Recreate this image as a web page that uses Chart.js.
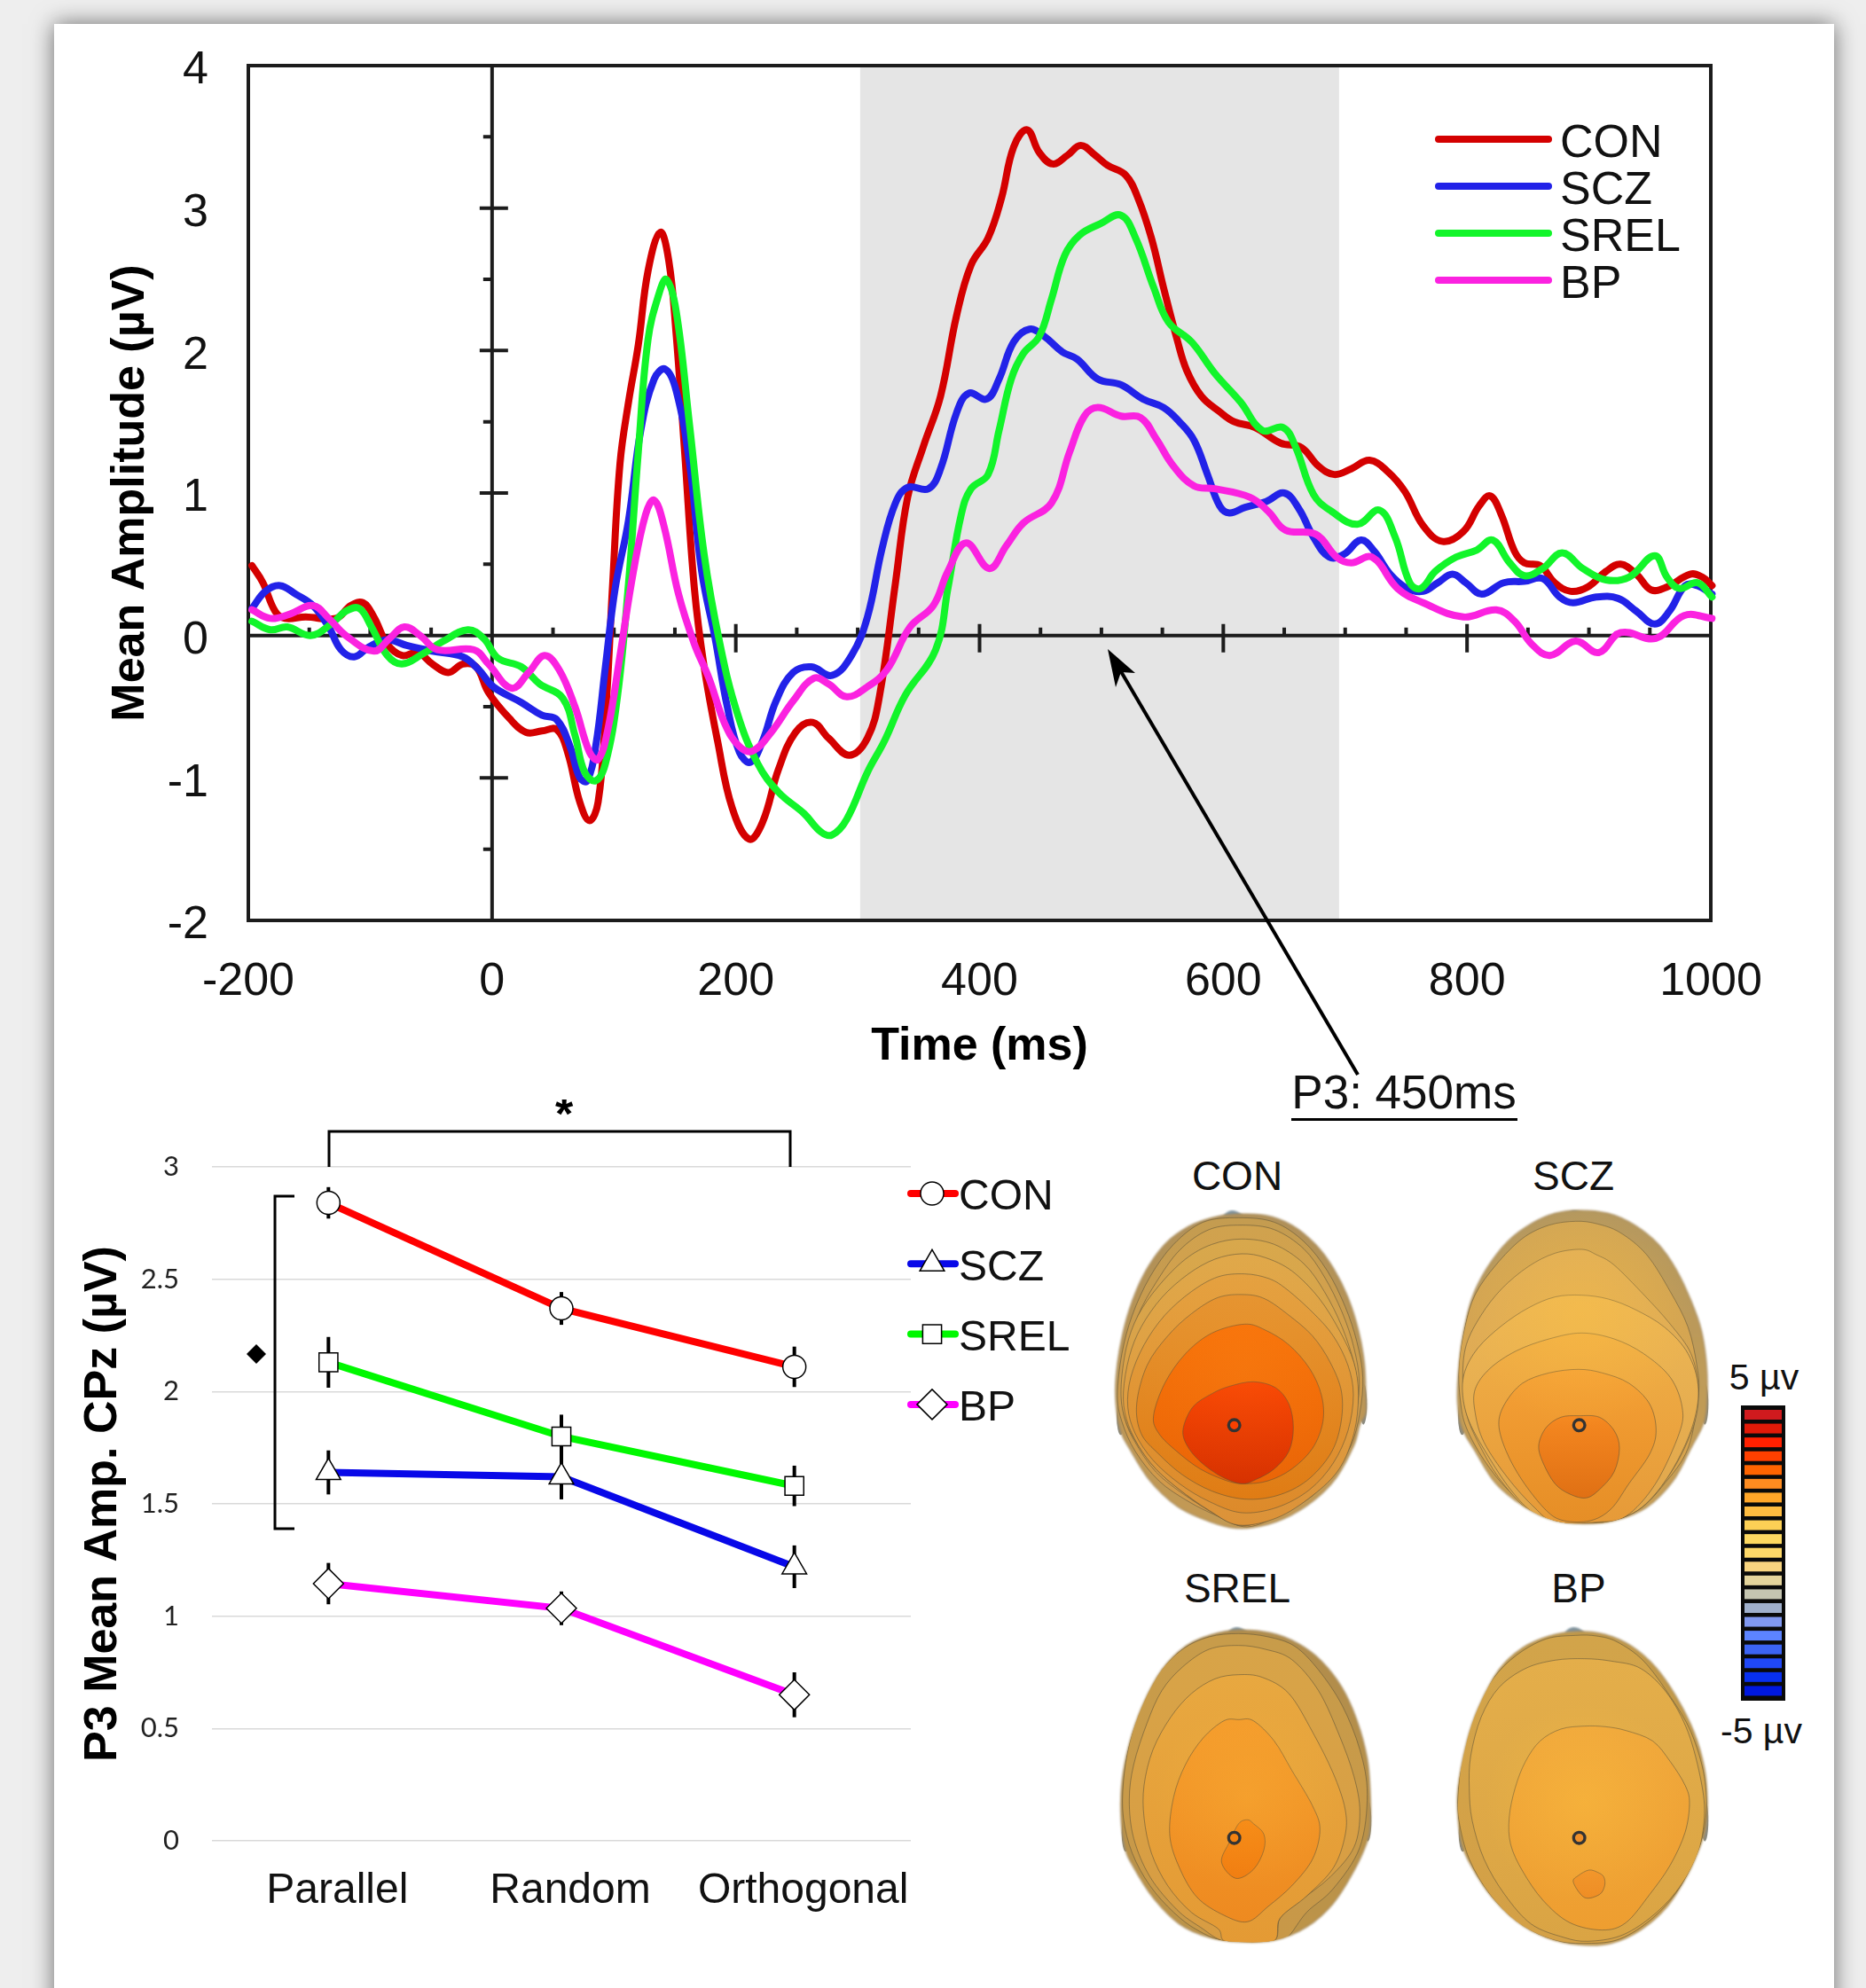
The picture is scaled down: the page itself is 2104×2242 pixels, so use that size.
<!DOCTYPE html>
<html>
<head>
<meta charset="utf-8">
<title>P3 amplitude</title>
<script src="https://cdn.jsdelivr.net/npm/chart.js@4/dist/chart.umd.js"></script>
<style>
  html, body { margin: 0; padding: 0; background: #eeeeee; }
  body { position: relative; width: 2104px; height: 2242px; overflow: hidden; font-family: "Liberation Sans", Arial, sans-serif; color: #111; }
  #card { position: absolute; left: 61px; top: 27px; width: 2007px; height: 2300px; background: #fff; box-shadow: 0 0 24px rgba(0,0,0,.55); }
  canvas, svg { position: absolute; left: 0; top: 0; }
  .lbl { position: absolute; transform: translate(-50%, -50%); white-space: nowrap; line-height: 1; }
</style>
</head>
<body>
<div id="card"></div>
<svg id="heads" width="2104" height="2242"></svg>
<canvas id="wave" width="2104" height="1300" style="width:2104px;height:1300px"></canvas>
<canvas id="means" width="1240" height="1002" style="top:1240px;width:1240px;height:1002px"></canvas>
<script>
// ---- grand average waveforms (time in ms, amplitude in uV) ----
const names = ["CON", "SCZ", "SREL", "BP"];
const waveColors = ["#d40000", "#2222e8", "#12f52a", "#fb22e0"];

const timeCon = [-197,-188,-178,-170,-153,-128,-116,-106,-97,-86,-74,-61,-49,-36,-24,-13,-3,14,28,41,53,62,72,80,87,93,99,105,112,120,128,138,145,151,158,166,174,185,197,211,222,235,249,263,276,293,308,318,331,341,354,368,381,393,407,418,428,439,449,460,472,483,495,505,520,530,541,551,562,570,582,597,609,626,647,664,678,691,705,720,735,749,764,780,797,810,819,828,839,847,860,872,885,899,914,926,939,951,964,983,993,1001];
const ampCon = [.49,.37,.17,.12,.13,.12,.21,.23,.13,-.06,-.14,-.12,-.20,-.26,-.20,-.22,-.40,-.58,-.68,-.67,-.66,-.82,-1.17,-1.30,-1.17,-.58,.37,1.21,1.64,2.04,2.56,2.83,2.63,2.12,1.29,.33,-.22,-.74,-1.21,-1.43,-1.31,-.94,-.68,-.61,-.72,-.84,-.72,-.42,.37,.97,1.33,1.68,2.24,2.60,2.79,3.07,3.43,3.55,3.39,3.31,3.37,3.44,3.37,3.30,3.23,3.07,2.79,2.44,2.08,1.86,1.68,1.57,1.50,1.46,1.35,1.32,1.19,1.13,1.17,1.23,1.15,1.01,.77,.66,.73,.91,.98,.85,.59,.51,.49,.37,.31,.34,.45,.50,.43,.32,.34,.43,.41,.35];

const timeScz = [-197,-186,-174,-161,-147,-134,-124,-113,-101,-86,-70,-49,-24,-11,1,24,41,53,64,72,78,85,93,101,112,122,133,142,151,162,172,183,193,203,212,222,233,247,262,279,295,308,320,331,341,358,368,381,391,406,416,428,441,453,468,480,497,516,534,551,564,576,587,597,605,618,635,650,662,674,687,699,713,724,737,751,764,776,788,799,812,830,847,862,876,887,906,924,939,954,966,979,989,1001];
const ampScz = [.19,.31,.35,.29,.21,.06,-.10,-.15,-.08,-.03,-.07,-.11,-.15,-.24,-.36,-.47,-.56,-.59,-.78,-1.00,-1.02,-.78,-.22,.33,.81,1.44,1.80,1.87,1.72,1.21,.45,-.02,-.50,-.82,-.89,-.74,-.46,-.26,-.22,-.28,-.14,.13,.61,.93,1.04,1.03,1.17,1.56,1.70,1.66,1.80,2.06,2.15,2.10,1.99,1.94,1.80,1.76,1.66,1.60,1.50,1.37,1.13,.91,.86,.90,.94,1.00,.89,.69,.55,.57,.67,.59,.43,.33,.31,.37,.43,.37,.29,.37,.38,.40,.27,.23,.27,.26,.17,.08,.17,.35,.35,.29];

const timeSrel = [-197,-182,-168,-149,-132,-120,-109,-99,-86,-74,-57,-40,-20,-7,5,24,39,58,68,76,85,93,103,112,120,128,137,143,151,162,174,187,201,218,235,256,270,279,291,308,322,339,364,374,385,393,407,416,426,436,449,459,470,482,499,516,528,543,555,574,593,614,632,649,659,674,689,710,728,741,753,762,774,791,808,821,835,847,862,878,895,914,933,954,964,974,989,1001];
const ampSrel = [.10,.04,.06,.00,.08,.17,.19,.06,-.14,-.20,-.13,-.04,.04,-.02,-.16,-.22,-.34,-.44,-.70,-.96,-1.02,-.90,-.42,.37,1.29,2.08,2.40,2.50,2.28,1.48,.57,-.06,-.54,-.90,-1.10,-1.25,-1.38,-1.40,-1.29,-.96,-.74,-.42,-.10,.33,.85,1.03,1.13,1.44,1.80,1.98,2.10,2.36,2.67,2.81,2.89,2.95,2.79,2.44,2.20,2.06,1.84,1.64,1.44,1.46,1.33,.99,.87,.78,.88,.69,.37,.33,.45,.55,.60,.67,.51,.42,.47,.58,.47,.39,.41,.56,.41,.33,.37,.27];

const timeBp = [-197,-182,-166,-147,-134,-120,-97,-84,-72,-59,-45,-15,-3,16,30,43,55,68,80,87,95,105,116,126,133,141,153,166,178,191,203,214,229,247,264,276,291,308,324,343,362,374,389,408,422,436,459,474,486,497,516,532,545,559,576,593,622,637,651,676,693,705,722,743,764,797,824,839,853,868,889,908,926,955,978,1001];
const ampBp = [.18,.12,.15,.21,.12,.00,-.11,-.02,.06,.00,-.10,-.10,-.20,-.37,-.26,-.14,-.24,-.50,-.82,-.87,-.66,-.14,.45,.85,.95,.77,.29,-.06,-.30,-.62,-.78,-.81,-.68,-.46,-.30,-.34,-.43,-.36,-.24,.06,.21,.45,.65,.47,.63,.79,.93,1.29,1.54,1.60,1.54,1.53,1.38,1.19,1.05,1.03,.97,.87,.74,.71,.55,.51,.55,.33,.23,.13,.18,.10,-.06,-.14,-.04,-.12,.02,-.02,.14,.12];

const xTickValues = [-200, 0, 200, 400, 600, 800, 1000];
const xMinorValues = [-150,-100,-50,50,100,150,250,300,350,450,500,550,650,700,750,850,900,950];
const yTickValues = [-2, -1, 0, 1, 2, 3, 4];
const yMinorValues = [-1.5,-.5,.5,1.5,2.5,3.5];
const p3Window = [302, 695];

// ---- mean P3 per condition ----
const conditions = ["Parallel", "Random", "Orthogonal"];
const meanColors = ["#ff0000", "#0808e8", "#00f800", "#ff00ff"];
const meanCon = [2.84, 2.37, 2.11];
const meanScz = [1.64, 1.62, 1.22];
const meanSrel = [2.13, 1.80, 1.58];
const meanBp = [1.145, 1.035, 0.65];
const errCon = [.07, .073, .09];
const errScz = [.098, .10, .095];
const errSrel = [.113, .097, .09];
const errBp = [.092, .075, .10];
const markerStyles = ["circle", "triangle", "rect", "rectRot"];
const markerSizes = [13, 16, 15, 17];

const font = "Liberation Sans";
const ink = "#1c1c1c";

function pairs(xs, ys) { return xs.map((x, i) => ({ x: x, y: ys[i] })); }

// plugin for the top panel: grey window, box, axes through zero, legend, arrow
const wavePanel = {
  id: "wavePanel",
  beforeDatasetsDraw(chart) {
    const { ctx, chartArea: a, scales: { x, y } } = chart;
    ctx.save();
    ctx.fillStyle = "#e5e5e5";
    ctx.fillRect(x.getPixelForValue(p3Window[0]), a.top, x.getPixelForValue(p3Window[1]) - x.getPixelForValue(p3Window[0]), a.bottom - a.top);
    ctx.strokeStyle = ink;
    ctx.lineWidth = 4;
    ctx.strokeRect(a.left, a.top, a.right - a.left, a.bottom - a.top);

    const x0 = x.getPixelForValue(0), y0 = y.getPixelForValue(0);
    ctx.beginPath();
    ctx.moveTo(a.left, y0); ctx.lineTo(a.right, y0);
    ctx.moveTo(x0, a.top); ctx.lineTo(x0, a.bottom);
    yTickValues.forEach(v => { if (v > -2 && v < 4) { const p = y.getPixelForValue(v); ctx.moveTo(x0 - 14, p); ctx.lineTo(x0 + 18, p); } });
    yMinorValues.forEach(v => { const p = y.getPixelForValue(v); ctx.moveTo(x0 - 10, p); ctx.lineTo(x0, p); });
    xTickValues.forEach(v => { if (v > 0 && v < 1000) { const p = x.getPixelForValue(v); ctx.moveTo(p, y0 - 13); ctx.lineTo(p, y0 + 19); } });
    xMinorValues.forEach(v => { const p = x.getPixelForValue(v); ctx.moveTo(p, y0 - 9); ctx.lineTo(p, y0); });
    ctx.stroke();
    ctx.restore();
  },
  afterDatasetsDraw(chart) {
    const { ctx } = chart;
    ctx.save();
    // legend
    ctx.font = "52px '" + font + "'";
    ctx.textBaseline = "middle";
    ctx.lineCap = "round";
    ctx.lineWidth = 8;
    names.forEach((n, i) => {
      const ly = 157 + i * 53;
      ctx.strokeStyle = waveColors[i];
      ctx.beginPath(); ctx.moveTo(1622, ly); ctx.lineTo(1746, ly); ctx.stroke();
      ctx.fillStyle = "#111";
      ctx.fillText(n, 1759, ly + 6);
    });
    // arrow to the P3 label
    ctx.lineCap = "butt";
    ctx.strokeStyle = "#000";
    ctx.fillStyle = "#000";
    ctx.lineWidth = 4;
    ctx.beginPath(); ctx.moveTo(1531, 1212); ctx.lineTo(1262, 754); ctx.stroke();
    ctx.beginPath(); ctx.moveTo(1249, 732); ctx.lineTo(1280, 759); ctx.lineTo(1264, 758); ctx.lineTo(1258, 775); ctx.closePath(); ctx.fill();
    ctx.restore();
  }
};

new Chart(document.getElementById("wave"), {
  type: "line",
  data: {
    datasets: [
      { label: names[0], data: pairs(timeCon, ampCon), borderColor: waveColors[0], order: 3 },
      { label: names[1], data: pairs(timeScz, ampScz), borderColor: waveColors[1], order: 2 },
      { label: names[2], data: pairs(timeSrel, ampSrel), borderColor: waveColors[2], order: 1 },
      { label: names[3], data: pairs(timeBp, ampBp), borderColor: waveColors[3], order: 0 },
    ],
  },
  options: {
    responsive: false,
    animation: false,
    layout: { padding: { top: 74, right: 175, left: 0, bottom: 0 } },
    elements: {
      point: { radius: 0 },
      line: { borderWidth: 8, tension: 0.4, capBezierPoints: true, borderCapStyle: "round" },
    },
    datasets: { line: { clip: false } },
    plugins: { legend: { display: false }, tooltip: { enabled: false } },
    scales: {
      x: {
        type: "linear", min: -200, max: 1000,
        afterBuildTicks: s => { s.ticks = xTickValues.map(v => ({ value: v })); },
        afterFit: s => { s.height = 262; },
        grid: { display: false }, border: { display: false },
        ticks: { color: "#111", font: { family: font, size: 52 }, padding: 30, maxRotation: 0, autoSkip: false, callback: v => String(v) },
        title: { display: true, text: "Time (ms)", color: "#000", font: { family: font, size: 52, weight: "bold" }, padding: { bottom: 88, top: 0 } },
      },
      y: {
        type: "linear", min: -2, max: 4,
        afterBuildTicks: s => { s.ticks = yTickValues.map(v => ({ value: v })); },
        afterFit: s => { s.width = 280; },
        grid: { display: false }, border: { display: false },
        ticks: { color: "#111", font: { family: font, size: 52 }, padding: 37, labelOffset: 6 },
        title: { display: true, text: "Mean Amplitude (µV)", color: "#000", font: { family: font, size: 52, weight: "bold" }, padding: { top: 116, bottom: 0 } },
      },
    },
  },
  plugins: [wavePanel],
});

const meanErrors = [errCon, errScz, errSrel, errBp];
const meanValues = [meanCon, meanScz, meanSrel, meanBp];

// plugin for the lower panel: error bars, significance brackets, legend
const meansPanel = {
  id: "meansPanel",
  beforeDatasetsDraw(chart) {
    const { ctx, scales: { x, y } } = chart;
    ctx.save();
    ctx.strokeStyle = "#000";
    ctx.lineWidth = 4;
    meanValues.forEach((vals, s) => vals.forEach((v, i) => {
      const p = x.getPixelForValue(i);
      ctx.beginPath();
      ctx.moveTo(p, y.getPixelForValue(v + meanErrors[s][i]));
      ctx.lineTo(p, y.getPixelForValue(v - meanErrors[s][i]));
      ctx.stroke();
    }));
    ctx.restore();
  },
  afterDatasetsDraw(chart) {
    const { ctx } = chart;
    ctx.save();
    ctx.strokeStyle = "#000";
    ctx.lineWidth = 3;
    ctx.beginPath();
    ctx.moveTo(371, 76); ctx.lineTo(371, 36); ctx.lineTo(891, 36); ctx.lineTo(891, 76);
    ctx.moveTo(332, 109); ctx.lineTo(310, 109); ctx.lineTo(310, 484); ctx.lineTo(332, 484);
    ctx.stroke();
    ctx.fillStyle = "#000";
    ctx.beginPath();
    ctx.moveTo(289, 276); ctx.lineTo(300, 287); ctx.lineTo(289, 298); ctx.lineTo(278, 287); ctx.closePath(); ctx.fill();
    ctx.font = "bold 52px '" + font + "'";
    ctx.textAlign = "center";
    ctx.textBaseline = "middle";
    ctx.fillText("*", 636, 20);
    // legend
    ctx.textAlign = "left";
    ctx.font = "48px '" + font + "'";
    names.forEach((n, i) => {
      const ly = 106 + i * 79.3;
      ctx.strokeStyle = meanColors[i];
      ctx.lineWidth = 8;
      ctx.lineCap = "round";
      ctx.beginPath(); ctx.moveTo(1027, ly); ctx.lineTo(1077, ly); ctx.stroke();
      ctx.lineCap = "butt";
      ctx.strokeStyle = "#000";
      ctx.fillStyle = "#fff";
      ctx.lineWidth = 1.5;
      Chart.helpers.drawPoint(ctx, { pointStyle: markerStyles[i], radius: markerSizes[i], rotation: 0, borderWidth: 1.5 }, 1051, ly);
      ctx.fillStyle = "#111";
      ctx.fillText(n, 1081, ly + 5);
    });
    ctx.restore();
  }
};

new Chart(document.getElementById("means"), {
  type: "line",
  data: {
    labels: conditions,
    datasets: names.map((n, i) => ({
      label: n,
      data: meanValues[i],
      borderColor: meanColors[i],
      borderWidth: 8,
      pointStyle: markerStyles[i],
      pointRadius: markerSizes[i],
      pointBackgroundColor: "#fff",
      pointBorderColor: "#000",
      pointBorderWidth: 1.5,
      tension: 0,
    })),
  },
  options: {
    responsive: false,
    animation: false,
    layout: { padding: { top: 76, right: 213, left: 0, bottom: 0 } },
    plugins: { legend: { display: false }, tooltip: { enabled: false } },
    scales: {
      x: {
        type: "category",
        offset: true,
        afterFit: s => { s.height = 166; },
        grid: { display: false }, border: { display: false },
        ticks: { color: "#111", font: { family: font, size: 48 }, padding: 20, labelOffset: 10, maxRotation: 0, autoSkip: false },
      },
      y: {
        min: 0, max: 3,
        afterFit: s => { s.width = 239; },
        grid: { color: "#d9d9d9", lineWidth: 1.5, drawTicks: false }, border: { display: false },
        ticks: { stepSize: 0.5, color: "#222", font: { family: "Lato", size: 31 }, padding: 37, callback: v => String(v) },
        title: { display: true, text: "P3 Mean Amp. CPz (µV)", color: "#000", font: { family: font, size: 52, weight: "bold" }, padding: { top: 85, bottom: 0 } },
      },
    },
  },
  plugins: [meansPanel],
});

// ---- scalp maps: illustration only, drawn as svg under the charts ----
const scalpMaps = [
  { origin: [1240, 1340], ring: [455, 802], nose: 455, glow: [490, 620, 420, .10],
    outline: [[455,88],[560,92],[650,125],[730,190],[790,270],[840,370],[875,480],[895,590],[900,690],[900,760],[880,800],[860,870],[800,980],[720,1060],[620,1120],[520,1148],[440,1148],[350,1120],[260,1075],[170,990],[100,880],[70,820],[55,730],[55,640],[70,530],[100,410],[150,290],[220,190],[300,130],[380,100]],
    base: ["#b09058", "#c39a55"],
    layers: [
      { c: ["#c49c50", "#d49a4a"], p: [[60,700],[75,560],[110,430],[170,300],[250,190],[350,115],[470,100],[590,115],[690,180],[770,280],[830,400],[870,520],[890,640],[880,760],[850,870],[790,960],[720,1040],[620,1100],[500,1146],[400,1110],[300,1060],[200,990],[120,890],[75,790]] },
      { c: ["#d0a24e", "#d89a48"], p: [[75,690],[90,560],[130,430],[190,320],[270,210],[370,140],[480,125],[590,140],[690,205],[760,300],[820,420],[860,540],[878,660],[860,790],[810,910],[730,1010],[620,1085],[490,1142],[390,1100],[290,1040],[190,960],[120,860],[85,780]] },
      { c: ["#d8a84c", "#da9844"], p: [[72,680],[90,540],[130,430],[200,330],[290,240],[380,190],[480,172],[590,190],[690,255],[760,350],[820,470],[862,600],[872,700],[855,820],[800,940],[710,1030],[600,1105],[480,1142],[370,1092],[270,1020],[190,950],[130,870],[85,780]] },
      { c: ["#e0a84a", "#dc9238"], p: [[80,690],[100,570],[140,470],[210,370],[300,290],[390,240],[480,222],[560,235],[650,280],[740,370],[810,480],[860,590],[875,700],[860,830],[810,950],[720,1040],[600,1115],[470,1140],[370,1090],[270,1020],[190,950],[130,870],[90,780]] },
      { c: ["#e4a040", "#dd8a2a"], p: [[95,740],[105,640],[150,530],[220,430],[310,350],[400,300],[490,290],[570,305],[630,340],[720,420],[790,500],[840,600],[858,700],[840,820],[790,930],[710,1020],[600,1080],[480,1098],[370,1060],[270,1000],[180,920],[120,830]] },
      { c: ["#e59230", "#e07c14"], p: [[125,730],[160,600],[230,500],[310,425],[400,370],[490,360],[560,375],[640,430],[720,500],[780,590],[818,690],[815,800],[780,900],[700,990],[600,1040],[490,1052],[380,1025],[280,970],[200,900],[140,830]] },
      { c: ["#f87008", "#ea6406"], p: [[182,770],[220,660],[290,560],[380,490],[490,460],[560,480],[640,530],[710,610],[750,700],[755,790],[720,880],[650,950],[570,990],[490,1000],[430,990],[340,950],[260,890],[200,830]] },
      { c: ["#f84000", "#d63000"], p: [[282,815],[315,740],[380,695],[440,670],[520,655],[595,675],[640,730],[655,810],[640,890],[590,950],[530,985],[480,1000],[410,975],[340,925],[295,870]] },
    ] },
  { origin: [1620, 1340], ring: [482, 802], nose: 472, glow: [490, 430, 380, .35],
    outline: [[480,75],[580,85],[670,125],[750,190],[810,275],[860,380],[895,480],[912,590],[915,700],[905,790],[860,880],[800,990],[710,1080],[600,1125],[500,1135],[400,1125],[300,1080],[200,1000],[130,890],[85,810],[70,720],[75,600],[90,490],[120,370],[170,270],[240,180],[320,120],[400,85]],
    base: ["#b3975f", "#c99e52"],
    layers: [
      { c: ["#d2a655", "#d8a24c"], p: [[470,112],[380,125],[290,170],[200,260],[130,360],[95,470],[75,600],[80,720],[100,810],[160,920],[240,1020],[330,1090],[420,1130],[560,1130],[680,1090],[770,1000],[850,880],[885,700],[880,600],[850,470],[790,350],[710,225],[620,150],[540,120]] },
      { c: ["#e0ae58", "#dea74e"], p: [[490,207],[400,220],[310,265],[220,340],[150,430],[100,530],[88,640],[100,760],[140,860],[210,980],[310,1090],[400,1130],[580,1130],[700,1070],[800,950],[870,800],[885,680],[860,560],[790,460],[700,360],[600,260],[540,225]] },
      { c: ["#edb654", "#e0a64c"], p: [[490,362],[400,368],[310,405],[220,465],[140,540],[95,620],[88,700],[110,790],[170,900],[250,1020],[330,1100],[430,1130],[560,1130],[680,1090],[780,980],[860,820],[885,680],[850,560],[770,470],[670,410],[580,375]] },
      { c: ["#f0ae46", "#e69a38"], p: [[490,490],[380,510],[270,550],[180,610],[130,680],[130,760],[160,860],[240,980],[330,1080],[400,1130],[540,1130],[640,1110],[740,1000],[820,830],[830,740],[790,640],[700,560],[600,510]] },
      { c: ["#f4a036", "#e68e26"], p: [[480,613],[380,625],[290,660],[230,730],[210,800],[235,890],[290,990],[370,1090],[430,1125],[520,1125],[590,1085],[650,1000],[720,900],[742,820],[720,730],[650,660],[560,625]] },
      { c: ["#f58820", "#e07014"], p: [[480,770],[420,775],[370,810],[345,870],[360,930],[400,1000],[450,1035],[505,1048],[550,1020],[600,960],[618,880],[600,820],[550,775]] },
    ] },
  { origin: [1240, 1810], ring: [455, 788], nose: 470, glow: [500, 650, 320, .22],
    outline: [[470,85],[580,95],[670,130],[750,190],[820,280],[870,390],[905,520],[915,640],[915,740],[905,800],[860,900],[790,1010],[700,1090],[590,1135],[470,1140],[370,1125],[270,1080],[180,990],[110,880],[85,820],[72,720],[75,600],[100,470],[145,340],[210,220],[290,140],[380,100]],
    base: ["#b08c4c", "#bd9448"],
    layers: [
      { c: ["#c89c4a", "#c89848"], p: [[470,97],[370,108],[280,150],[200,230],[140,340],[100,470],[80,600],[80,720],[110,840],[170,950],[250,1040],[330,1100],[430,1138],[600,1138],[640,1120],[700,1040],[790,960],[880,820],[905,640],[880,490],[820,340],[740,220],[660,140],[570,108]] },
      { c: ["#d8a448", "#d89c42"], p: [[470,137],[370,150],[280,210],[210,290],[160,400],[115,540],[100,660],[115,790],[170,920],[260,1030],[340,1090],[430,1140],[585,1140],[610,1060],[680,1000],[780,920],[860,820],[880,700],[860,580],[810,440],[740,290],[650,185],[560,150]] },
      { c: ["#e8a840", "#e49a34"], p: [[470,236],[390,250],[310,300],[240,380],[180,490],[150,610],[150,720],[175,840],[230,950],[310,1040],[400,1095],[430,1140],[585,1140],[610,1060],[700,985],[790,890],[830,780],[830,690],[790,570],[720,430],[640,300],[550,245]] },
      { c: ["#f49c2c", "#ee8a20"], p: [[470,388],[420,392],[350,450],[290,540],[250,650],[237,780],[270,890],[330,990],[420,1050],[500,1072],[570,1020],[650,950],[720,860],[745,760],[720,680],[650,560],[590,460],[520,392]] },
      { c: ["#f58210", "#f07c10"], p: [[500,727],[470,740],[440,800],[412,870],[460,925],[520,895],[555,830],[555,775],[520,740]] },
    ] },
  { origin: [1620, 1810], ring: [482, 788], nose: 470, glow: [500, 670, 340, .38],
    outline: [[470,90],[570,100],[660,140],[740,210],[810,310],[870,430],[905,550],[915,660],[910,750],[890,820],[850,910],[780,1020],[690,1100],[590,1145],[480,1150],[370,1125],[270,1070],[180,980],[115,880],[85,810],[72,720],[72,620],[100,470],[140,350],[210,220],[290,145],[380,105]],
    base: ["#c09848", "#c89c4a"],
    layers: [
      { c: ["#d2a44a", "#d4a046"], p: [[470,103],[370,115],[270,170],[190,250],[130,360],[90,490],[72,640],[75,730],[110,860],[180,980],[280,1080],[400,1135],[510,1145],[620,1130],[730,1060],[820,960],[880,840],[910,720],[905,580],[860,430],[790,310],[700,190],[610,125],[540,105]] },
      { c: ["#e4ae4a", "#daa444"], p: [[500,182],[400,187],[300,215],[210,280],[150,380],[115,510],[110,620],[120,730],[160,860],[230,980],[320,1080],[430,1125],[510,1138],[620,1120],[720,1060],[810,970],[880,850],[905,720],[895,600],[850,430],[780,300],[690,215],[590,190]] },
      { c: ["#f0a83c", "#ee9e30"], p: [[500,410],[420,420],[350,460],[300,530],[265,620],[245,720],[250,810],[290,900],[360,1000],[450,1075],[560,1100],[640,1075],[720,980],[790,880],[840,770],[855,670],[840,610],[790,530],[730,460],[640,425],[570,412]] },
      { c: ["#f09028", "#ee8c24"], p: [[515,897],[480,915],[462,938],[500,990],[550,980],[568,950],[565,920],[545,905]] },
    ] },
];

const colorBar = ["#d01a1e","#e01a08","#ff2000","#ff4000","#ff6400","#ff8c20","#ffa628","#ffbc40","#fdd055","#fdd860","#fed868","#f8d480","#e4d49c","#c4c4b0","#a0b0cc","#8098f0","#5c84ff","#3c64f4","#2048f8","#0830f0","#0018e0"];

// closed smooth path through the points
function smoothPath(pts) {
  const n = pts.length;
  let d = "M" + pts[0][0] + " " + pts[0][1];
  for (let i = 0; i < n; i++) {
    const p0 = pts[(i - 1 + n) % n], p1 = pts[i], p2 = pts[(i + 1) % n], p3 = pts[(i + 2) % n];
    d += "C" + (p1[0] + (p2[0] - p0[0]) / 6) + " " + (p1[1] + (p2[1] - p0[1]) / 6) + " " +
      (p2[0] - (p3[0] - p1[0]) / 6) + " " + (p2[1] - (p3[1] - p1[1]) / 6) + " " + p2[0] + " " + p2[1];
  }
  return d + "Z";
}

let defs = '<filter id="soft"><feGaussianBlur stdDeviation="2.5"/></filter>';
let body = "";
scalpMaps.forEach((m, h) => {
  const grad = (id, c) => '<linearGradient id="' + id + '" x1="0" y1="0" x2="0" y2="1"><stop offset="0" stop-color="' + c[0] + '"/><stop offset="1" stop-color="' + c[1] + '"/></linearGradient>';
  const outline = smoothPath(m.outline);
  const left = Math.min(...m.outline.map(p => p[0])), right = Math.max(...m.outline.map(p => p[0]));
  defs += '<clipPath id="clip' + h + '"><path d="' + outline + '"/></clipPath>' + grad("base" + h, m.base);
  defs += '<radialGradient id="glow' + h + '" gradientUnits="userSpaceOnUse" cx="' + m.glow[0] + '" cy="' + m.glow[1] + '" r="' + m.glow[2] + '"><stop offset="0" stop-color="#ffc440" stop-opacity="' + m.glow[3] + '"/><stop offset="1" stop-color="#ffc440" stop-opacity="0"/></radialGradient>';
  let g = '<g transform="translate(' + m.origin[0] + ' ' + m.origin[1] + ') scale(.3333)">';
  // nose and ears
  g += '<path d="M' + (m.nose - 38) + ' 95Q' + (m.nose - 10) + ' 55 ' + (m.nose + 32) + ' 95Z" fill="#7f929c" filter="url(#soft)"/>';
  g += '<ellipse cx="' + (left + 16) + '" cy="770" rx="14" ry="65" fill="#8a8a80"/><ellipse cx="' + (right - 8) + '" cy="730" rx="12" ry="70" fill="#8a8a80"/>';
  g += '<path d="' + outline + '" fill="url(#base' + h + ')" stroke="#a58a5c" stroke-width="5" stroke-opacity=".7" filter="url(#soft)"/>';
  g += '<g clip-path="url(#clip' + h + ')">';
  m.layers.forEach((l, i) => {
    defs += grad("l" + h + "_" + i, l.c);
    g += '<path d="' + smoothPath(l.p) + '" fill="url(#l' + h + "_" + i + ')" stroke="#5e5238" stroke-opacity=".7" stroke-width="2.4"/>';
  });
  g += '<circle cx="' + m.glow[0] + '" cy="' + m.glow[1] + '" r="' + m.glow[2] + '" fill="url(#glow' + h + ')"/>';
  g += "</g>";
  const top = m.layers[m.layers.length - 1].c[0];
  g += '<circle cx="' + m.ring[0] + '" cy="' + m.ring[1] + '" r="19" fill="' + top + '" stroke="#333" stroke-width="10"/>';
  g += "</g>";
  body += g;
});
// colour scale
body += '<rect x="1963" y="1585" width="50" height="333" fill="#0a0a0a"/>';
colorBar.forEach((c, i) => {
  body += '<rect x="1967" y="' + (1590 + i * 15.57) + '" width="42" height="11" fill="' + c + '"/>';
});
document.getElementById("heads").innerHTML = "<defs>" + defs + "</defs>" + body;

// plain text labels around the scalp maps
const labels = [
  ["P3: 450ms", 1583, 1231, 53], ["CON", 1395, 1326, 46], ["SCZ", 1774, 1326, 46],
  ["SREL", 1395, 1791, 46], ["BP", 1780, 1791, 46], ["5 µv", 1989, 1553, 41], ["-5 µv", 1986, 1952, 41],
];
labels.forEach(l => {
  const d = document.createElement("div");
  d.className = "lbl";
  d.textContent = l[0];
  d.style.left = l[1] + "px"; d.style.top = l[2] + "px"; d.style.fontSize = l[3] + "px";
  document.body.appendChild(d);
});
const rule = document.createElement("div");
rule.style.cssText = "position:absolute;left:1456px;top:1261px;width:255px;height:3px;background:#000";
document.body.appendChild(rule);
</script>
</body>
</html>
